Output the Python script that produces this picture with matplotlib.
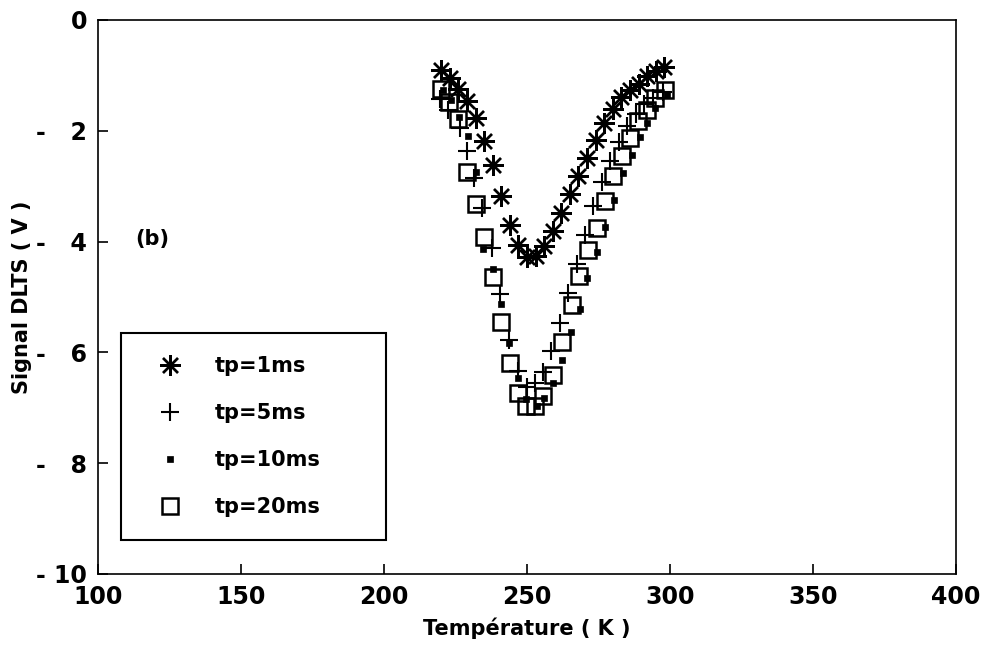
import numpy as np
import matplotlib.pyplot as plt
from matplotlib.ticker import FuncFormatter

# DLTS spectra for several filling pulse widths
t_1ms = [220, 223, 226, 229, 232, 235, 238, 241, 244, 247, 250, 253, 256, 259,
         262, 265, 268, 271, 274, 277, 280, 283, 286, 289, 292, 295, 298]
s_1ms = [-0.90, -1.05, -1.25, -1.47, -1.77, -2.18, -2.62, -3.17, -3.70, -4.07,
         -4.28, -4.26, -4.08, -3.81, -3.49, -3.14, -2.82, -2.50, -2.17, -1.86,
         -1.60, -1.39, -1.26, -1.15, -1.02, -0.93, -0.85]

t_5ms = [219.5, 222.5, 226.5, 229.0, 231.5, 234.3, 237.6, 240.6, 243.8, 247.0,
         250.0, 252.8, 255.5, 258.3, 261.5, 264.5, 267.5, 270.3, 273.2, 276.1,
         279.0, 282.0, 285.0, 288.0, 291.0, 294.0, 297.5]
s_5ms = [-1.42, -1.62, -1.95, -2.37, -2.85, -3.39, -4.11, -4.95, -5.77, -6.34,
         -6.62, -6.55, -6.35, -5.97, -5.47, -4.92, -4.40, -3.89, -3.36, -2.93,
         -2.55, -2.20, -1.92, -1.70, -1.52, -1.40, -1.30]

t_10ms = [220.5, 223.3, 226.3, 229.3, 232.2, 234.7, 238.0, 240.8, 243.8, 246.7,
          249.7, 253.4, 256.0, 259.2, 262.1, 265.3, 268.5, 271.1, 274.3, 277.3,
          280.4, 283.4, 286.6, 289.5, 291.8, 294.8, 298.8]
s_10ms = [-1.26, -1.45, -1.75, -2.09, -2.75, -4.14, -4.49, -5.12, -5.83, -6.47,
          -6.85, -6.97, -6.83, -6.56, -6.14, -5.63, -5.21, -4.65, -4.19, -3.73,
          -3.25, -2.76, -2.43, -2.11, -1.86, -1.59, -1.35]

t_20ms = [219.8, 222.8, 226.0, 228.9, 232.0, 234.9, 238.0, 241.0, 244.0, 247.0,
          249.7, 252.8, 255.7, 259.0, 262.1, 265.6, 268.3, 271.4, 274.3, 277.3,
          280.1, 283.1, 286.0, 288.9, 291.8, 294.8, 298.3]
s_20ms = [-1.24, -1.48, -1.79, -2.74, -3.33, -3.92, -4.64, -5.45, -6.20, -6.73,
          -6.97, -6.97, -6.79, -6.40, -5.81, -5.15, -4.62, -4.15, -3.75, -3.27,
          -2.82, -2.46, -2.13, -1.83, -1.62, -1.41, -1.26]

labels = ['tp=1ms', 'tp=5ms', 'tp=10ms', 'tp=20ms']


def ylab(v, pos):
    # minus signs lined up in one column
    if v == 0:
        return '0'
    n = abs(int(round(v)))
    return '- %d' % n if n >= 10 else '-   %d' % n


plt.rcParams['font.family'] = 'DejaVu Sans'
plt.rcParams['font.weight'] = 'bold'

fig = plt.figure(figsize=(9.87, 6.59), dpi=100)
ax = fig.add_axes([0.0993, 0.129, 0.8693, 0.8407])

ax.plot(t_1ms, s_1ms, ls='none', marker=(8, 2, 0), ms=15, mew=1.7,
        color='black', label=labels[0])
ax.plot(t_5ms, s_5ms, ls='none', marker='+', ms=13, mew=1.5,
        color='black', label=labels[1])
ax.plot(t_10ms, s_10ms, ls='none', marker='s', ms=4, mew=0.5,
        color='black', label=labels[2])
ax.plot(t_20ms, s_20ms, ls='none', marker='s', ms=11, mew=1.8,
        mfc='none', mec='black', label=labels[3])

ax.set_xlim(100, 400)
ax.set_ylim(-10, 0)
ax.set_xticks(np.arange(100, 401, 50))
ax.set_yticks(np.arange(-10, 1, 2))
ax.yaxis.set_major_formatter(FuncFormatter(ylab))

ax.tick_params(direction='in', length=7, width=1.2, labelsize=17,
               top=False, right=False, pad=8)
for sp in ax.spines.values():
    sp.set_linewidth(1.2)

ax.set_xlabel('Température ( K )', fontsize=15, fontweight='bold', labelpad=6)
ax.set_ylabel('Signal DLTS ( V )', fontsize=15, fontweight='bold', labelpad=3)

ax.text(113, -3.95, '(b)', fontsize=15, fontweight='bold',
        ha='left', va='center')

leg = ax.legend(loc='upper left', bbox_to_anchor=(0.027, 0.0, 0.309, 0.435),
                mode='expand', borderaxespad=0, fontsize=15, fancybox=False,
                framealpha=1, edgecolor='black', handlelength=2.5,
                handletextpad=0.9, labelspacing=1.3, borderpad=1.1,
                numpoints=1)
leg.get_frame().set_linewidth(1.5)

fig.savefig('out.png', dpi=100)
